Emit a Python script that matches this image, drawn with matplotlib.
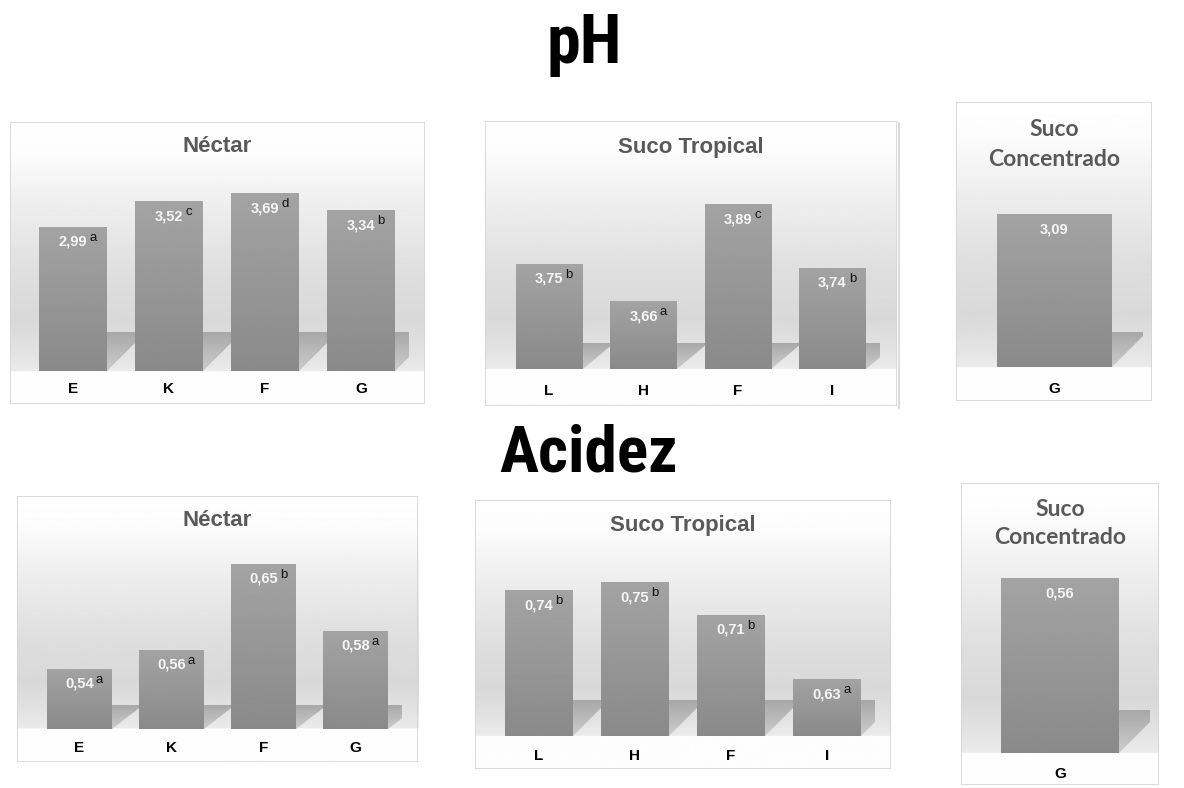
import numpy as np
import matplotlib
matplotlib.use('Agg')
import matplotlib.pyplot as plt
from matplotlib.patches import Rectangle, Polygon
from matplotlib import font_manager as fm

W, H = 1184, 788

# --- data ---
ph_nectar_cat = ['E', 'K', 'F', 'G']
ph_nectar_val = [2.99, 3.52, 3.69, 3.34]
ph_nectar_let = ['a', 'c', 'd', 'b']

ph_trop_cat = ['L', 'H', 'F', 'I']
ph_trop_val = [3.75, 3.66, 3.89, 3.74]
ph_trop_let = ['b', 'a', 'c', 'b']

ph_conc_cat = ['G']
ph_conc_val = [3.09]
ph_conc_let = ['']

ac_nectar_cat = ['E', 'K', 'F', 'G']
ac_nectar_val = [0.54, 0.56, 0.65, 0.58]
ac_nectar_let = ['a', 'a', 'b', 'a']

ac_trop_cat = ['L', 'H', 'F', 'I']
ac_trop_val = [0.74, 0.75, 0.71, 0.63]
ac_trop_let = ['b', 'b', 'b', 'a']

ac_conc_cat = ['G']
ac_conc_val = [0.56]
ac_conc_let = ['']

TITLE_GREY = '#595959'
SANS = ['Liberation Sans', 'DejaVu Sans']


def narrow_font():
    # big headings are in a condensed face; use one if it is installed
    for name in ['Liberation Sans Narrow', 'Arial Narrow', 'Roboto Condensed']:
        try:
            fm.findfont(fm.FontProperties(family=name, weight='bold'),
                        fallback_to_default=False)
            return [name, 'DejaVu Sans'], 1.0
        except ValueError:
            pass
    return SANS, 0.86


NARROW, NARROW_SCALE = narrow_font()

fig = plt.figure(figsize=(W / 100, H / 100), dpi=100)
fig.patch.set_facecolor('white')


def frac(l, t, r, b):
    return [l / W, 1 - b / H, (r - l) / W, (b - t) / H]


def fig_xy(x, y):
    return x / W, 1 - y / H


def gradient_fill(ax, patch, extent, g_top, g_bot, z):
    arr = np.linspace(g_top, g_bot, 100).reshape(-1, 1)
    im = ax.imshow(arr, cmap='gray', vmin=0, vmax=1, extent=extent,
                   aspect='auto', interpolation='bilinear', zorder=z)
    im.set_clip_path(patch)


def panel(box, cats, vals, letters, c0, sp, bw, bottom, base, ppu,
          label_y, band, titles, title_ys, title_family, title_size,
          shadow_dx=31):
    l, t, r, b = box
    # frame + background gradient
    axb = fig.add_axes(frac(l, t, r, b), zorder=0)
    ys = np.linspace(t, b, 300)
    f = (ys - t) / (bottom - t)
    g = np.interp(f, [0, 0.12, 0.35, 0.62, 0.8, 0.9, 1.0],
                  [1.0, 0.99, 0.93, 0.87, 0.85, 0.88, 0.92])
    g[f > 1.0] = 0.995
    axb.imshow(g.reshape(-1, 1), cmap='gray', vmin=0, vmax=1,
               extent=(0, 1, 0, 1), aspect='auto', interpolation='bilinear')
    axb.add_patch(Rectangle((0, 0), 1, 1, transform=axb.transAxes,
                            fill=False, edgecolor='#d4d4d4', lw=1.2))
    axb.set_xlim(0, 1)
    axb.set_ylim(0, 1)
    axb.axis('off')

    for txt, ty in zip(titles, title_ys):
        fx, fy = fig_xy((l + r) / 2, ty)
        fig.text(fx, fy, txt, ha='center', va='center', color=TITLE_GREY,
                 fontsize=title_size, fontweight='bold', family=title_family)

    # plot area
    n = len(cats)
    top = bottom - 230
    ax = fig.add_axes(frac(c0 - sp / 2, top, c0 + (n - 0.5) * sp, bottom),
                      zorder=1)
    ax.set_facecolor('none')
    x = np.arange(n)
    w = bw / sp
    bars = ax.bar(x, vals, w, color='#969696', zorder=2)

    for p in bars:
        R = p.get_x() + p.get_width()
        dx = shadow_dx / sp
        hy = band / ppu
        dy = min(shadow_dx, band) / ppu
        sh = Polygon([(R, base), (R, base + hy), (R + dx, base + hy),
                      (R + dx, base + dy)], closed=True, facecolor='none',
                     edgecolor='none')
        ax.add_patch(sh)
        gradient_fill(ax, sh, (R, R + dx, base, base + hy), 0.66, 0.80, 1)
        gradient_fill(ax, p, (p.get_x(), R, base, p.get_height()),
                      0.64, 0.54, 3)

    for i, (v, let) in enumerate(zip(vals, letters)):
        s = f'{v:.2f}'.replace('.', ',')
        ax.annotate(s, (i, v), xytext=(0, -15 * 0.72), textcoords='offset points',
                    ha='center', va='center', color='#f6f6f6', fontsize=10.5,
                    fontweight='bold', family=SANS, zorder=5)
        if let:
            ax.annotate(let, (i, v), xytext=(20 * 0.72, -11 * 0.72),
                        textcoords='offset points', ha='center', va='center',
                        color='#111111', fontsize=9.5, family=SANS, zorder=5)

    ax.set_xlim(-0.5, n - 0.5)
    ax.set_ylim(base, base + 230 / ppu)
    ax.set_xticks(x, cats)
    ax.set_yticks([])
    ax.tick_params(length=0, pad=(label_y - bottom - 8) * 0.72)
    for lab in ax.get_xticklabels():
        lab.set_fontweight('bold')
        lab.set_fontsize(11)
        lab.set_family(SANS)
    for s in ax.spines.values():
        s.set_visible(False)
    return ax


# --- pH row ---
fx, fy = fig_xy(584, 63)
fig.text(fx, fy, 'pH', ha='center', va='baseline', fontsize=49 * NARROW_SCALE,
         fontweight='bold', family=NARROW)

panel((10, 122, 425, 404), ph_nectar_cat, ph_nectar_val, ph_nectar_let,
      73, 96, 68, 371, 0.0, 48.2, 390, 39,
      ['Néctar'], [147], SANS, 16)
panel((485, 121, 897, 406), ph_trop_cat, ph_trop_val, ph_trop_let,
      549, 94.5, 67, 369, 3.5, 422, 392, 26,
      ['Suco Tropical'], [148], SANS, 16)
fig.add_artist(plt.Line2D([899 / W, 899 / W], [1 - 123 / H, 1 - 408 / H],
                          color='#d4d4d4', lw=1.2))
panel((956, 102, 1152, 401), ph_conc_cat, ph_conc_val, ph_conc_let,
      1054.5, 180, 115, 367, 0.0, 49.5, 390, 35,
      ['Suco', 'Concentrado'], [129, 160], ['Lato', 'DejaVu Sans'], 16.5)

# --- Acidez row ---
fx, fy = fig_xy(589, 472)
fig.text(fx, fy, 'Acidez', ha='center', va='baseline',
         fontsize=47 * NARROW_SCALE, fontweight='bold', family=NARROW)

panel((17, 496, 418, 762), ac_nectar_cat, ac_nectar_val, ac_nectar_let,
      79.5, 92, 65, 729, 0.477, 955, 749, 24,
      ['Néctar'], [520], SANS, 16)
panel((475, 500, 891, 769), ac_trop_cat, ac_trop_val, ac_trop_let,
      539, 96, 68, 736, 0.56, 810, 757, 36,
      ['Suco Tropical'], [525], SANS, 16)
panel((961, 483, 1159, 785), ac_conc_cat, ac_conc_val, ac_conc_let,
      1060, 180, 118, 753, 0.0, 312, 775, 43,
      ['Suco', 'Concentrado'], [509, 537], ['Lato', 'DejaVu Sans'], 16.5)

fig.savefig('out.png', dpi=100)
